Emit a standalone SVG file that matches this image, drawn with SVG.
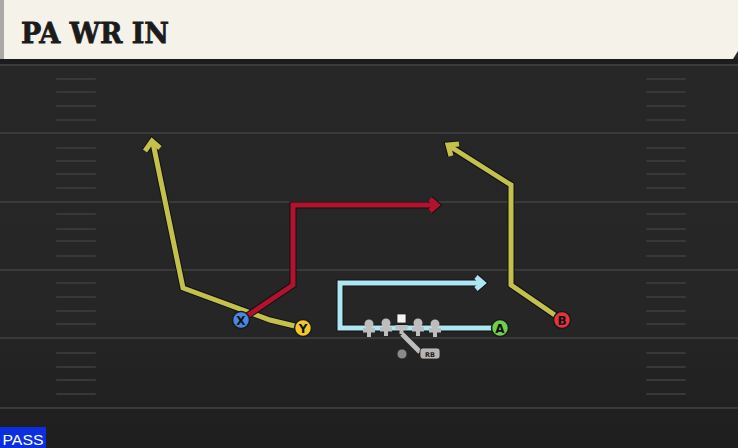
<svg xmlns="http://www.w3.org/2000/svg" width="738" height="448" viewBox="0 0 738 448">
<defs>
<linearGradient id="bg" x1="0" y1="0" x2="0" y2="1">
<stop offset="0" stop-color="#272727"/>
<stop offset="0.7" stop-color="#262626"/>
<stop offset="1" stop-color="#1e1e1e"/>
</linearGradient>
<style>
.yl{stroke:#3a3a3a;stroke-width:2}
.hm{stroke:#383838;stroke-width:2;stroke-linecap:round}
.out{fill:none;stroke:#111;stroke-width:7;stroke-linejoin:miter;stroke-linecap:butt}
.ylw{fill:none;stroke:#c4c04c;stroke-width:5;stroke-linejoin:miter}
.red{fill:none;stroke:#b3122e;stroke-width:5;stroke-linejoin:miter}
.cyn{fill:none;stroke:#aee6f4;stroke-width:5;stroke-linejoin:miter}
.pl{stroke:#1a1a1a;stroke-width:1.5}
.lt{font-family:"DejaVu Sans",sans-serif;font-weight:bold;font-size:12px;text-anchor:middle;fill:#111}
.ol{fill:#bdbdbd}
</style>
</defs>
<rect width="738" height="448" fill="url(#bg)"/>
<rect x="0" y="59" width="738" height="6" fill="#1c1c1c"/>
<g id="field">
<line class="yl" x1="0" y1="65" x2="738" y2="65"/>
<line class="yl" x1="0" y1="133" x2="738" y2="133"/>
<line class="yl" x1="0" y1="202" x2="738" y2="202"/>
<line class="yl" x1="0" y1="270" x2="738" y2="270"/>
<line class="yl" x1="0" y1="338" x2="738" y2="338"/>
<line class="yl" x1="0" y1="408" x2="738" y2="408"/>
<g id="hashL">
<line class="hm" x1="57" y1="79" x2="95" y2="79"/>
<line class="hm" x1="57" y1="92" x2="95" y2="92"/>
<line class="hm" x1="57" y1="106" x2="95" y2="106"/>
<line class="hm" x1="57" y1="120" x2="95" y2="120"/>
<line class="hm" x1="57" y1="148" x2="95" y2="148"/>
<line class="hm" x1="57" y1="161" x2="95" y2="161"/>
<line class="hm" x1="57" y1="174" x2="95" y2="174"/>
<line class="hm" x1="57" y1="188" x2="95" y2="188"/>
<line class="hm" x1="57" y1="214" x2="95" y2="214"/>
<line class="hm" x1="57" y1="229" x2="95" y2="229"/>
<line class="hm" x1="57" y1="241" x2="95" y2="241"/>
<line class="hm" x1="57" y1="256" x2="95" y2="256"/>
<line class="hm" x1="57" y1="283" x2="95" y2="283"/>
<line class="hm" x1="57" y1="297" x2="95" y2="297"/>
<line class="hm" x1="57" y1="311" x2="95" y2="311"/>
<line class="hm" x1="57" y1="324" x2="95" y2="324"/>
<line class="hm" x1="57" y1="353" x2="95" y2="353"/>
<line class="hm" x1="57" y1="367" x2="95" y2="367"/>
<line class="hm" x1="57" y1="380" x2="95" y2="380"/>
<line class="hm" x1="57" y1="394" x2="95" y2="394"/>
</g>
<g id="hashR">
<line class="hm" x1="647" y1="79" x2="685" y2="79"/>
<line class="hm" x1="647" y1="92" x2="685" y2="92"/>
<line class="hm" x1="647" y1="106" x2="685" y2="106"/>
<line class="hm" x1="647" y1="120" x2="685" y2="120"/>
<line class="hm" x1="647" y1="148" x2="685" y2="148"/>
<line class="hm" x1="647" y1="161" x2="685" y2="161"/>
<line class="hm" x1="647" y1="174" x2="685" y2="174"/>
<line class="hm" x1="647" y1="188" x2="685" y2="188"/>
<line class="hm" x1="647" y1="214" x2="685" y2="214"/>
<line class="hm" x1="647" y1="229" x2="685" y2="229"/>
<line class="hm" x1="647" y1="241" x2="685" y2="241"/>
<line class="hm" x1="647" y1="256" x2="685" y2="256"/>
<line class="hm" x1="647" y1="283" x2="685" y2="283"/>
<line class="hm" x1="647" y1="297" x2="685" y2="297"/>
<line class="hm" x1="647" y1="311" x2="685" y2="311"/>
<line class="hm" x1="647" y1="324" x2="685" y2="324"/>
<line class="hm" x1="647" y1="353" x2="685" y2="353"/>
<line class="hm" x1="647" y1="367" x2="685" y2="367"/>
<line class="hm" x1="647" y1="380" x2="685" y2="380"/>
<line class="hm" x1="647" y1="394" x2="685" y2="394"/>
</g>
</g>
<g id="header">
<path d="M0 0 H738 V51 L733 59 H0 Z" fill="#f5f2ea"/>
<rect x="0" y="0" width="4" height="59" fill="#aaa9a5"/>
<text x="21" y="43" font-family="DejaVu Serif" font-weight="bold" font-size="28" fill="#1b1b1b" stroke="#1b1b1b" stroke-width="0.8" textLength="148" lengthAdjust="spacingAndGlyphs">PA WR IN</text>
</g>
<g id="connectors">
<g id="route-Y">
<polyline class="out" points="303,328 270,320 183,288 153,143"/>
<polyline class="out" points="145,151 152,141 160,148"/>
<polyline class="ylw" points="303,328 270,320 183,288 153,143"/>
<polyline class="ylw" points="145,151 152,141 160,148"/>
</g>
<g id="route-B">
<polyline class="out" points="562,320 511,285 511,185 451,147"/>
<polyline class="out" points="451,156 448,145 459,144"/>
<polyline class="ylw" points="562,320 511,285 511,185 451,147"/>
<polyline class="ylw" points="451,156 448,145 459,144"/>
</g>
<g id="route-X">
<polyline class="out" points="241,320 293,285 293,205 436,205"/>
<polyline class="out" points="430,199 437,205 430,211"/>
<polyline class="red" points="241,320 293,285 293,205 436,205"/>
<polyline class="red" points="430,199 437,205 430,211"/>
</g>
<g id="route-A">
<polyline class="out" points="500,328 340,328 340,283 482,283"/>
<polyline class="out" points="476,277 483,283 476,289"/>
<polyline class="cyn" points="500,328 340,328 340,283 482,283"/>
<polyline class="cyn" points="476,277 483,283 476,289"/>
</g>
<g id="route-RB">
<polyline points="402,334 420,352" fill="none" stroke="#222" stroke-width="7"/>
<polyline points="402,334 420,352" fill="none" stroke="#bdbdbd" stroke-width="5"/>
</g>
</g>
<g id="oline">
<g id="LT"><circle class="ol" cx="369" cy="324" r="4.5"/><rect class="ol" x="363" y="328" width="12" height="4.5"/><rect class="ol" x="367" y="328" width="4" height="9"/></g>
<g id="LG"><circle class="ol" cx="386" cy="323" r="4.5"/><rect class="ol" x="380" y="327" width="12" height="4.5"/><rect class="ol" x="384" y="327" width="4" height="9"/></g>
<g id="C"><rect x="397" y="314" width="9" height="9" fill="#f4f4f4" stroke="#222" stroke-width="0.8"/><rect class="ol" x="395.5" y="325" width="12" height="4.5"/><rect class="ol" x="399.5" y="325" width="4" height="9"/></g>
<g id="RG"><circle class="ol" cx="418" cy="323" r="4.5"/><rect class="ol" x="412" y="327" width="12" height="4.5"/><rect class="ol" x="416" y="327" width="4" height="9"/></g>
<g id="RT"><circle class="ol" cx="435" cy="324" r="4.5"/><rect class="ol" x="429" y="328" width="12" height="4.5"/><rect class="ol" x="433" y="328" width="4" height="9"/></g>
</g>
<g id="QB"><circle cx="402" cy="354" r="5" fill="#8a8a8a" stroke="#222" stroke-width="0.8"/></g>
<g id="RB">
<rect x="420" y="348" width="20" height="11" rx="3" fill="#b5b5b5" stroke="#222" stroke-width="0.8"/>
<text x="430" y="356.5" font-family="DejaVu Sans" font-weight="bold" font-size="6.5" text-anchor="middle" fill="#222">RB</text>
</g>
<g id="X"><circle cx="241" cy="320" r="8.5" fill="#4a86e0" class="pl"/><text class="lt" x="241" y="324.5">X</text></g>
<g id="Y"><circle cx="303" cy="328" r="8.5" fill="#f3c62a" class="pl"/><text class="lt" x="303" y="332.5">Y</text></g>
<g id="A"><circle cx="500" cy="328" r="8.5" fill="#6ed04a" class="pl"/><text class="lt" x="500" y="332.5">A</text></g>
<g id="B"><circle cx="562" cy="320" r="8.5" fill="#e53440" class="pl"/><text class="lt" x="562" y="324.5">B</text></g>
<g id="pass">
<rect x="0" y="427" width="46" height="21" fill="#0b2fe0"/>
<text x="23" y="445" font-family="Liberation Sans" font-size="15" text-anchor="middle" fill="#fff" textLength="41" lengthAdjust="spacingAndGlyphs">PASS</text>
</g>
</svg>
